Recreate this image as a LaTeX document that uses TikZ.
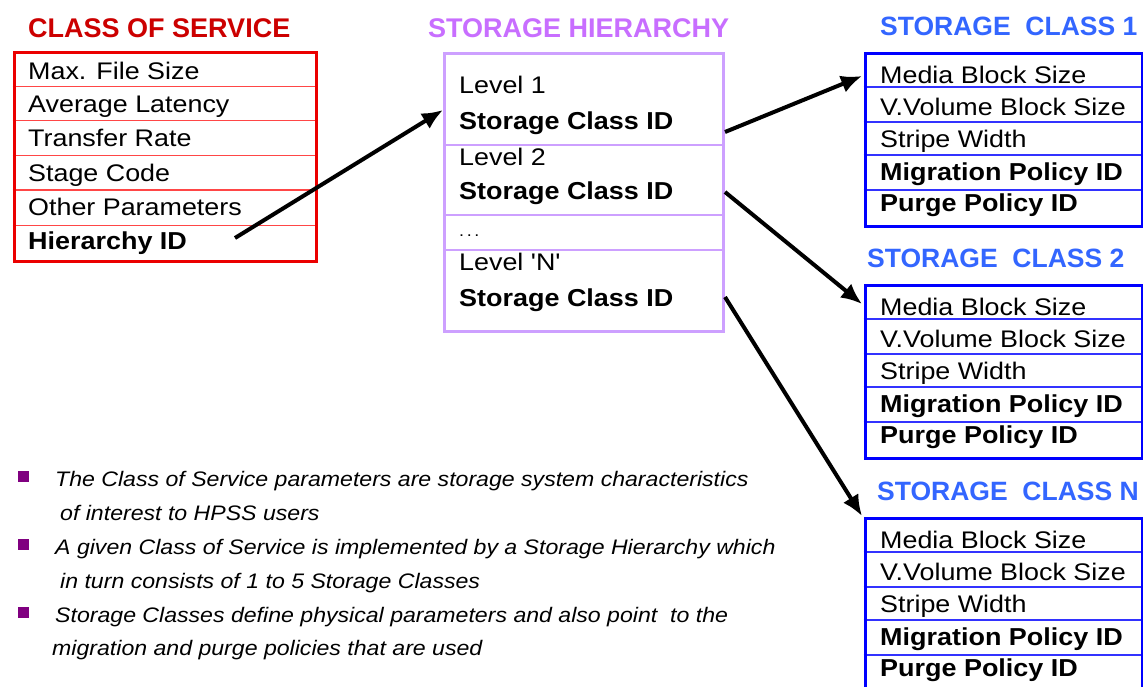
\documentclass[tikz,border=0pt]{standalone}
\usepackage{fontspec}
\setmainfont{Liberation Sans}
\newfontfamily\regf[FakeStretch=1.12]{Liberation Sans}
\newfontfamily\boldf[FakeStretch=1.1]{Liberation Sans}
\newfontfamily\notef[FakeStretch=1.1]{Liberation Sans}
\usetikzlibrary{arrows.meta}
\definecolor{cosred}{RGB}{235,0,0}
\definecolor{cosline}{RGB}{255,70,70}
\definecolor{costitle}{RGB}{204,0,0}
\definecolor{shline}{RGB}{205,160,255}
\definecolor{shtitle}{RGB}{200,110,255}
\definecolor{scblue}{RGB}{0,0,255}
\definecolor{scline}{RGB}{50,50,255}
\definecolor{sctitle}{RGB}{51,102,255}
\definecolor{bulletc}{RGB}{128,0,128}
\tikzset{
  reg/.style={anchor=base west, inner sep=0pt, font=\regf\fontsize{24}{28}\selectfont},
  bld/.style={anchor=base west, inner sep=0pt, font=\boldf\bfseries\fontsize{24.5}{28}\selectfont},
  ttl/.style={anchor=base west, inner sep=0pt, font=\bfseries\fontsize{26.5}{30}\selectfont},
  note/.style={anchor=base west, inner sep=0pt, font=\notef\itshape\fontsize{21}{24}\selectfont},
  bul/.style={fill=bulletc, draw=none, minimum size=11pt, inner sep=0pt},
  outer/.style={draw=#1, line width=3pt, inner sep=0pt, anchor=north west},
  sep/.style={draw=#1, line width=1.5pt},
  arr/.style={line width=4pt, -{Latex[length=21pt,width=18pt]}},
}
\begin{document}
\begin{tikzpicture}[x=1pt,y=-1pt]
\useasboundingbox (0,0) rectangle (1143,686);
\fill[white] (0,0) rectangle (1143,686);

% ---------- Class of Service ----------
\node[ttl, text=costitle, font=\bfseries\fontsize{27}{30}\selectfont] (costitle) at (28,37) {CLASS OF SERVICE};
\foreach \yy in {86.5,120.5,155.5,190,225.5}{\draw[sep=cosline] (12.5,\yy) -- (315,\yy);}
\node[outer=cosred, minimum width=302.5pt, minimum height=208.5pt] (cos) at (12.5,51) {};
\node[reg] (c1) at (28,79) {Max. File Size};
\node[reg] (c2) at (28,112) {Average Latency};
\node[reg] (c3) at (28,146) {Transfer Rate};
\node[reg] (c4) at (28,181) {Stage Code};
\node[reg] (c5) at (28,215) {Other Parameters};
\node[bld] (c6) at (28,249) {Hierarchy ID};

% ---------- Storage Hierarchy ----------
\node[ttl, text=shtitle, font=\bfseries\fontsize{27}{30}\selectfont] (shtitle) at (428,37) {STORAGE HIERARCHY};
\foreach \yy in {145,215,250}{\draw[sep=shline, line width=2pt] (443,\yy) -- (722,\yy);}
\node[outer=shline, minimum width=279pt, minimum height=278pt] (sh) at (443,52) {};
\node[reg] (h1) at (459,93) {Level 1};
\node[bld] (h2) at (459,129) {Storage Class ID};
\node[reg] (h3) at (459,165) {Level 2};
\node[bld] (h4) at (459,199) {Storage Class ID};
\node[reg] (h5) at (459,236) {\fontsize{16}{18}\selectfont .\,.\,.};
\node[reg] (h6) at (459,270) {Level 'N'};
\node[bld] (h7) at (459,306) {Storage Class ID};

% ---------- Storage Classes ----------
\foreach \n/\dy/\lab/\tx in {1/0/1/880, 2/232/2/867, 3/465/N/877}{
  \node[ttl, text=sctitle] (sct\n) at (\tx,35+\dy) {STORAGE\ \ CLASS \lab};
  \foreach \yy in {87,121.5,155,189.5}{\draw[sep=scline, line width=2pt] (863.5,\yy+\dy) -- (1141,\yy+\dy);}
  \node[outer=scblue, minimum width=277.5pt, minimum height=172.5pt] (sc\n) at (863.5,52+\dy) {};
  \node[reg] (s\n a) at (880,83+\dy) {Media Block Size};
  \node[reg] (s\n b) at (880,115+\dy) {V.Volume Block Size};
  \node[reg] (s\n c) at (880,147+\dy) {Stripe Width};
  \node[bld] (s\n d) at (880,180+\dy) {Migration Policy ID};
  \node[bld] (s\n e) at (880,211+\dy) {Purge Policy ID};
}

% ---------- Connectors ----------
\coordinate (a1s) at (235,238);
\coordinate (a1e) at (443,110);
\coordinate (a2s) at (725,132);
\coordinate (a2e) at (862,76);
\coordinate (a3s) at (725,192);
\coordinate (a3e) at (862,304);
\coordinate (a4s) at (725,297);
\coordinate (a4e) at (862,516);
\draw[arr] (a1s) -- (a1e);
\draw[arr] (a2s) -- (a2e);
\draw[arr] (a3s) -- (a3e);
\draw[arr] (a4s) -- (a4e);

% ---------- Notes ----------
\node[bul] (b1) at (23,476) {};
\node[bul] (b2) at (23,544) {};
\node[bul] (b3) at (23,612) {};
\node[note] (n1) at (55,486) {The Class of Service parameters are storage system characteristics};
\node[note] (n2) at (60,520) {of interest to HPSS users};
\node[note] (n3) at (55,554) {A given Class of Service is implemented by a Storage Hierarchy which};
\node[note] (n4) at (60,588) {in turn consists of 1 to 5 Storage Classes};
\node[note] (n5) at (55,622) {Storage Classes define physical parameters and also point\ \ to the};
\node[note] (n6) at (52,655) {migration and purge policies that are used};
\end{tikzpicture}
\end{document}
